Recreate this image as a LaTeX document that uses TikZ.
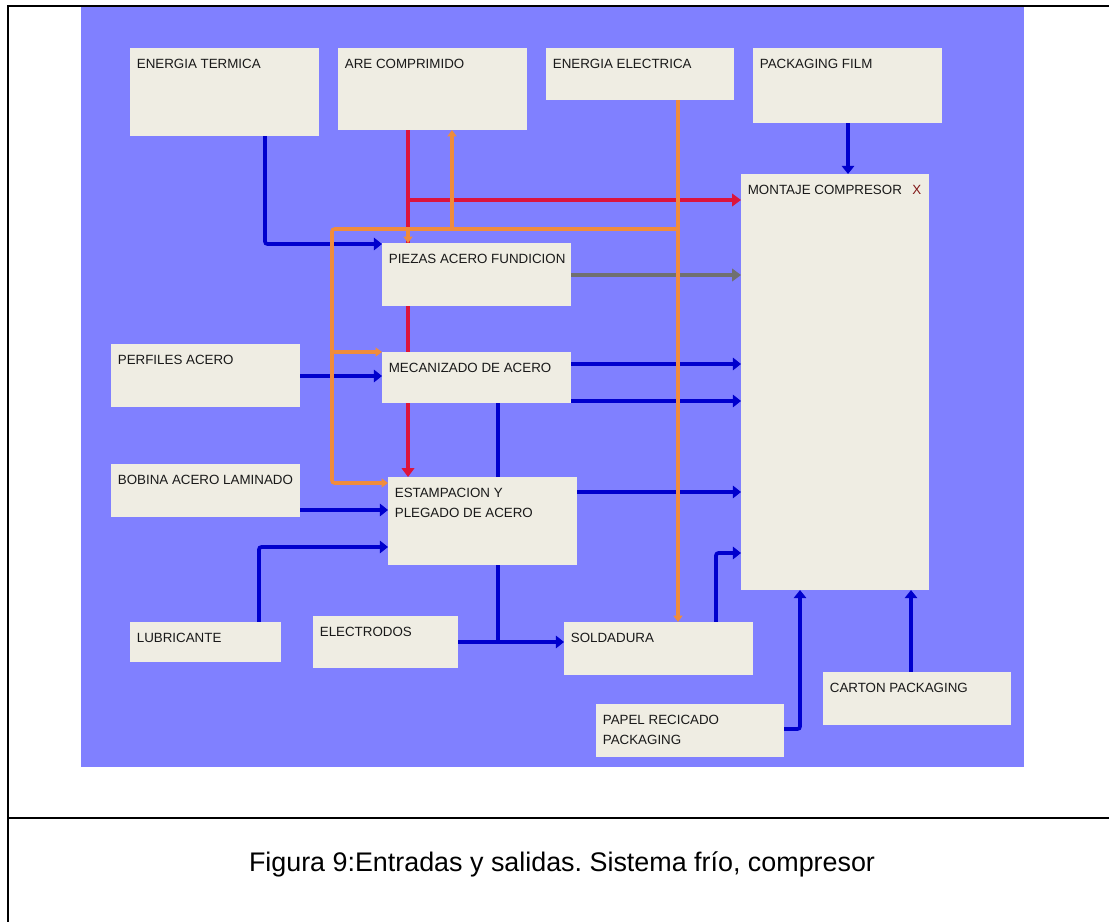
\documentclass[tikz,border=0pt]{standalone}
\usepackage{fontspec}
\setmainfont{Liberation Sans}
\usetikzlibrary{arrows.meta,fit}

\definecolor{panel}{RGB}{128,128,255}
\definecolor{boxfill}{RGB}{239,237,227}
\definecolor{boxtext}{RGB}{25,25,25}
\definecolor{flowblue}{RGB}{0,0,205}
\definecolor{flowred}{RGB}{220,20,60}
\definecolor{floworange}{RGB}{240,140,60}
\definecolor{flowgray}{RGB}{112,112,112}
\definecolor{markred}{RGB}{130,25,25}

\pgfdeclarelayer{panel}
\pgfdeclarelayer{lines}
\pgfsetlayers{panel,lines,main}

\frenchspacing
\begin{document}
\begin{tikzpicture}[x=0.02cm,y=-0.02cm,
  blk/.style={fill=boxfill,draw=none,inner sep=0pt,outer sep=0pt},
  lbl/.style={anchor=north west,inner sep=0pt,align=left,text=boxtext,
    font=\fontsize{7.6pt}{11.4pt}\selectfont,xshift=0.13cm,yshift=-0.21cm},
  flow/.style={line width=2.1pt,rounded corners=0.05cm},
  bl/.style={flow,draw=flowblue,-{Triangle[length=4.6pt,width=7pt]}},
  blplain/.style={flow,draw=flowblue},
  rd/.style={flow,line width=2.1pt,draw=flowred,-{Triangle[length=5pt,width=7pt]}},
  gr/.style={flow,line width=2.1pt,draw=flowgray,-{Triangle[length=5pt,width=7pt]}},
  og/.style={flow,line width=2pt,draw=floworange,-{Triangle[length=3.6pt,width=5pt]}},
  frame/.style={line width=1.4pt,draw=black}
]
\useasboundingbox (0,0) rectangle (1109,922);

% background panel
\begin{pgfonlayer}{panel}
  \fill[panel] (81,7) rectangle (1024,767);
\end{pgfonlayer}

% blocks
\node[blk,fit={(130,48) (319,136)},label={[lbl]north west:ENERGIA TERMICA}] (termica) {};
\node[blk,fit={(338,48) (527,130)},label={[lbl]north west:ARE COMPRIMIDO}] (are) {};
\node[blk,fit={(546,48) (734,100)},label={[lbl]north west:ENERGIA ELECTRICA}] (electrica) {};
\node[blk,fit={(753,48) (942,123)},label={[lbl]north west:PACKAGING FILM}] (film) {};
\node[blk,fit={(741,174) (929,590)},
  label={[lbl]north west:{MONTAJE COMPRESOR\hspace{6pt}{\color{markred}X}}}] (montaje) {};
\node[blk,fit={(382,243) (571,306)},label={[lbl]north west:PIEZAS ACERO FUNDICION}] (piezas) {};
\node[blk,fit={(382,352) (571,403)},label={[lbl]north west:MECANIZADO DE ACERO}] (mecanizado) {};
\node[blk,fit={(111,344) (300,407)},label={[lbl]north west:PERFILES ACERO}] (perfiles) {};
\node[blk,fit={(111,464) (300,517)},label={[lbl]north west:BOBINA ACERO LAMINADO}] (bobina) {};
\node[blk,fit={(388,477) (577,565)},label={[lbl]north west:{ESTAMPACION Y\\PLEGADO DE ACERO}}] (estampacion) {};
\node[blk,fit={(130,622) (281,662)},label={[lbl]north west:LUBRICANTE}] (lubricante) {};
\node[blk,fit={(313,616) (458,668)},label={[lbl]north west:ELECTRODOS}] (electrodos) {};
\node[blk,fit={(564,622) (753,675)},label={[lbl]north west:SOLDADURA}] (soldadura) {};
\node[blk,fit={(596,704) (784,757)},label={[lbl]north west:{PAPEL RECICADO\\PACKAGING}}] (papel) {};
\node[blk,fit={(823,672) (1011,725)},label={[lbl]north west:CARTON PACKAGING}] (carton) {};

% route points
\coordinate (k1) at (265,244);
\coordinate (k2) at (848,150);
\coordinate (k3) at (340,376);
\coordinate (k4) at (650,364);
\coordinate (k5) at (650,401);
\coordinate (k6) at (650,492);
\coordinate (k7) at (340,510);
\coordinate (k8) at (259,547);
\coordinate (k9) at (498,642);
\coordinate (k10) at (716,553);
\coordinate (k11) at (800,729);
\coordinate (k12) at (911,700);
\coordinate (r1) at (408,300);
\coordinate (r2) at (408,200);
\coordinate (g1) at (650,275);
\coordinate (o1) at (678,229);
\coordinate (o2) at (332,483);
\coordinate (o3) at (332,352);
\coordinate (o4) at (408,229);
\coordinate (o5) at (452,229);

\begin{pgfonlayer}{lines}
  % material flows
  \draw[bl] (termica.south -| k1) |- (piezas.west |- k1);
  \draw[bl] (film.south -| k2) -- (montaje.north -| k2);
  \draw[bl] (perfiles.east |- k3) -- (mecanizado.west |- k3);
  \draw[bl] (mecanizado.east |- k4) -- (montaje.west |- k4);
  \draw[bl] (mecanizado.east |- k5) -- (montaje.west |- k5);
  \draw[bl] (estampacion.east |- k6) -- (montaje.west |- k6);
  \draw[bl] (bobina.east |- k7) -- (estampacion.west |- k7);
  \draw[bl] (lubricante.north -| k8) |- (estampacion.west |- k8);
  \draw[blplain] (mecanizado.south -| k9) -- (k9);
  \draw[bl] (electrodos.east |- k9) -- (soldadura.west |- k9);
  \draw[bl] (soldadura.north -| k10) |- (montaje.west |- k10);
  \draw[bl] (papel.east |- k11) -| (montaje.south -| k11);
  \draw[bl] (carton.north -| k12) -- (montaje.south -| k12);
  % compressed air
  \draw[rd] (are.south -| r1) -- (estampacion.north -| r1);
  \draw[rd] (r2) -- (montaje.west |- r2);
  % cast parts
  \draw[gr] (piezas.east |- g1) -- (montaje.west |- g1);
  % electric energy
  \draw[og] (electrica.south -| o1) -- (soldadura.north -| o1);
  \draw[og] (o1) -| (o2) -- (estampacion.west |- o2);
  \draw[og] (o3) -- (mecanizado.west |- o3);
  \draw[og] (o4) -- (piezas.north -| o4);
  \draw[og] (o5) -- (are.south -| o5);
\end{pgfonlayer}

% table frame and caption
\draw[frame] (8,922) -- (8,6) -- (1109,6);
\draw[frame] (8,818) -- (1109,818);
\node[font=\fontsize{15.3pt}{18pt}\selectfont,anchor=base,inner sep=0pt] (caption) at (562,871)
  {Figura 9:Entradas y salidas. Sistema frío, compresor};
\end{tikzpicture}
\end{document}
